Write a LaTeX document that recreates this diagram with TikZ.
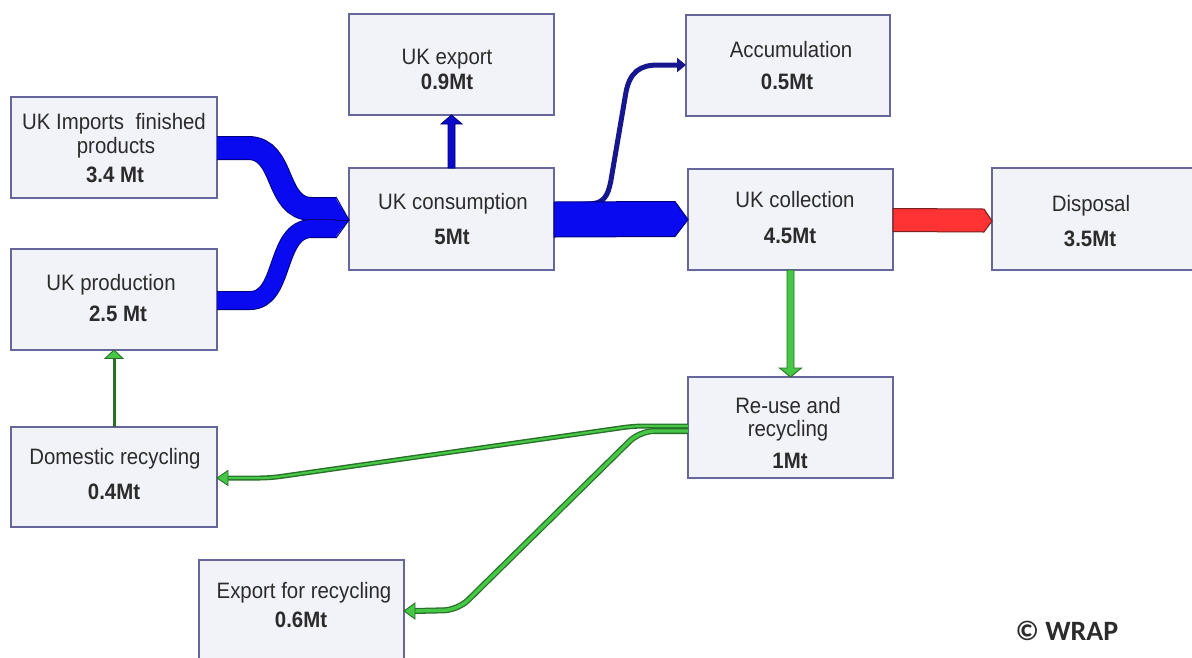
\documentclass[tikz,border=0pt]{standalone}
\usepackage{fontspec}
\setmainfont{Liberation Sans}[FakeStretch=0.915]
\newfontfamily\wrapfont{Carlito}
\usetikzlibrary{calc,arrows.meta}
\definecolor{boxfill}{HTML}{F2F2F9}
\definecolor{boxline}{HTML}{66669A}
\definecolor{txtgray}{HTML}{2B2B2B}
\definecolor{bandblue}{HTML}{0A0AF0}
\definecolor{bandnavy}{HTML}{00007A}
\definecolor{thinnavy}{HTML}{16168E}
\definecolor{expblue}{HTML}{0A0AC8}
\definecolor{redfill}{HTML}{FF3333}
\definecolor{redline}{HTML}{7A2020}
\definecolor{grnfill}{HTML}{46C846}
\definecolor{grnline}{HTML}{2A702A}
\begin{document}
\begin{tikzpicture}[x=1pt,y=-1pt,
  box/.style={draw=boxline, fill=boxfill, line width=1.3pt, anchor=north west, inner sep=0pt, outer sep=0pt},
  txt/.style={anchor=base, inner sep=0pt, text=txtgray, font=\fontsize{22.3}{26}\selectfont},
  num/.style={anchor=base, inner sep=0pt, text=txtgray, font=\fontsize{22.3}{26}\selectfont\bfseries},
  bandout/.style={draw=bandnavy},
  bandin/.style={draw=bandblue},
  grnout/.style={draw=grnline, line width=5pt, rounded corners=10pt},
  grnin/.style={draw=grnfill, line width=2.2pt, rounded corners=10pt},
  headg/.style={fill=grnfill, draw=grnline, line width=0.9pt, line join=miter},
]
\useasboundingbox (0,0) rectangle (1192,657);
\clip (0,0) rectangle (1192,657);
\fill[white] (0,0) rectangle (1192,657);

% boxes
\node[box, minimum width=206pt, minimum height=101pt] (imp) at (11,97) {};
\node[box, minimum width=206pt, minimum height=101pt] (prod) at (11,249) {};
\node[box, minimum width=206pt, minimum height=100pt] (dom) at (11,427) {};
\node[box, minimum width=205pt, minimum height=102pt] (expr) at (199,560) {};
\node[box, minimum width=205pt, minimum height=101pt] (uexp) at (349,14) {};
\node[box, minimum width=205pt, minimum height=102pt] (cons) at (349,168) {};
\node[box, minimum width=204pt, minimum height=101pt] (acc) at (686,15) {};
\node[box, minimum width=205pt, minimum height=101pt] (coll) at (688,169) {};
\node[box, minimum width=212pt, minimum height=102pt] (disp) at (992,168) {};
\node[box, minimum width=205pt, minimum height=101pt] (reuse) at (688,377) {};

% texts
\node[txt] (imp-a) at (114,129) {UK Imports\ \ finished};
\node[txt] (imp-b) at (116,153) {products};
\node[num] (imp-c) at (115,182) {3.4 Mt};
\node[txt] (prod-a) at (111,290) {UK production};
\node[num] (prod-b) at (118,321) {2.5 Mt};
\node[txt] (dom-a) at (115,464) {Domestic recycling};
\node[num] (dom-b) at (114,499) {0.4Mt};
\node[txt] (expr-a) at (304,598) {Export for recycling};
\node[num] (expr-b) at (301,627) {0.6Mt};
\node[txt] (uexp-a) at (447,64) {UK export};
\node[num] (uexp-b) at (447,89) {0.9Mt};
\node[txt] (cons-a) at (453,209) {UK consumption};
\node[num] (cons-b) at (452,244) {5Mt};
\node[txt] (acc-a) at (791,57) {Accumulation};
\node[num] (acc-b) at (787,89) {0.5Mt};
\node[txt] (coll-a) at (795,207) {UK collection};
\node[num] (coll-b) at (790,243) {4.5Mt};
\node[txt] (disp-a) at (1091,211) {Disposal};
\node[num] (disp-b) at (1090,246) {3.5Mt};
\node[txt] (reuse-a) at (788,413) {Re-use and};
\node[txt] (reuse-b) at (788,436) {recycling};
\node[num] (reuse-c) at (790,468) {1Mt};
\node[anchor=base, inner sep=0pt, text=txtgray, font=\wrapfont\fontsize{28}{32}\selectfont\bfseries] (wrap) at (1067,640) {© WRAP};

% merging blue bands into consumption
\coordinate (tip) at ($(cons.west)+(0,1)$);
\draw[bandout, line width=24pt] ($(imp.east)+(0,0.5)$) -- (248,148) .. controls (286,148) and (274,209) .. (312,209) -- ($(tip)+(-13,-11)$);
\draw[bandin, line width=22pt] ($(imp.east)+(0,0.5)$) -- (248,148) .. controls (286,148) and (274,209) .. (312,209) -- ($(tip)+(-13,-11)$);
\draw[bandout, line width=19pt] ($(prod.east)+(0,1)$) -- (250,300.5) .. controls (286,300.5) and (274,228.5) .. (312,228.5) -- ($(tip)+(-13,8.5)$);
\draw[bandin, line width=17pt] ($(prod.east)+(0,1)$) -- (250,300.5) .. controls (286,300.5) and (274,228.5) .. (312,228.5) -- ($(tip)+(-13,8.5)$);
\fill[bandblue] ($(tip)+(-13.5,-22)$) -- (tip) -- ($(tip)+(-13.5,17)$) -- cycle;
\draw[bandnavy, line width=1pt] ($(tip)+(-13,-23)$) -- (tip) -- ($(tip)+(-13,18)$);
\draw[bandnavy, line width=1pt] ($(tip)+(-14,0)$) -- (tip);

% consumption -> accumulation (thin navy)
\draw[thinnavy, line width=5pt, -{Triangle[length=9pt,width=14pt]}] ($(cons.east)+(20,-14)$) -- (588,204) .. controls (604,204) and (608,196) .. (611,180) -- (626,92) .. controls (630,72) and (640,65) .. (658,65) -- ($(acc.west)+(0,-0.5)$);

% consumption -> collection (big band)
\draw[bandnavy, fill=bandblue, line width=1pt, line join=miter] ($(cons.east)+(0,-17)$) -- ($(coll.west)+(-13,-18)$) -- (coll.west) -- ($(coll.west)+(-13,17)$) -- ($(cons.east)+(0,18)$) -- cycle;

% consumption -> UK export
\draw[bandnavy, fill=expblue, line width=0.9pt, line join=miter] ($(cons.north)+(-3.5,0)$) -- ($(uexp.south)+(-3.5,9)$) -- ($(uexp.south)+(-10.5,9)$) -- (uexp.south) -- ($(uexp.south)+(10.5,9)$) -- ($(uexp.south)+(3.5,9)$) -- ($(cons.north)+(3.5,0)$) -- cycle;

% collection -> disposal (red)
\draw[redline, fill=redfill, line width=1pt, line join=miter] ($(coll.east)+(0,-11)$) -- ($(disp.west)+(-8,-10)$) -- ($(disp.west)+(0,2)$) -- ($(disp.west)+(-8,13)$) -- ($(coll.east)+(0,12)$) -- cycle;

% collection -> re-use (green)
\draw[headg] ($(coll.south)+(-3.5,0)$) -- ($(reuse.north)+(-3.5,-9)$) -- ($(reuse.north)+(-11,-9)$) -- (reuse.north) -- ($(reuse.north)+(11,-9)$) -- ($(reuse.north)+(3.5,-9)$) -- ($(coll.south)+(3.5,0)$) -- cycle;

% re-use -> export for recycling
\draw[grnout, line width=6pt, rounded corners=14pt] ($(reuse.west)+(0,3.5)$) -- (640,431) -- (458,610) -- ($(expr.east)+(10,0)$);
\draw[grnin, line width=3.4pt, rounded corners=14pt] ($(reuse.west)+(0,3.5)$) -- (640,431) -- (458,610) -- ($(expr.east)+(10,0)$);
\draw[headg] (expr.east) -- ($(expr.east)+(11,-8)$) -- ($(expr.east)+(11,8)$) -- cycle;

% re-use -> domestic recycling
\draw[grnout] ($(reuse.west)+(0,-1.5)$) -- (634,426) -- (270,478) -- ($(dom.east)+(11,1)$);
\draw[grnin] ($(reuse.west)+(0,-1.5)$) -- (634,426) -- (270,478) -- ($(dom.east)+(11,1)$);
\draw[headg] ($(dom.east)+(0,1)$) -- ($(dom.east)+(11,-6.5)$) -- ($(dom.east)+(11,8.5)$) -- cycle;

% domestic recycling -> production
\draw[grnline, line width=3pt] (dom.north) -- ($(prod.south)+(0,8)$);
\draw[headg] (prod.south) -- ($(prod.south)+(9,8.5)$) -- ($(prod.south)+(-9,8.5)$) -- cycle;
\end{tikzpicture}
\end{document}
